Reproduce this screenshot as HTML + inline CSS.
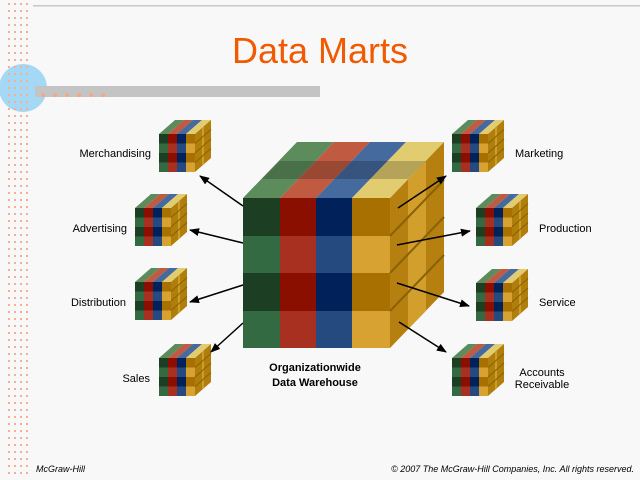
<!DOCTYPE html>
<html><head><meta charset="utf-8"><style>
html,body{margin:0;padding:0;background:#f8f8f8}
svg{display:block}
text{font-family:"Liberation Sans",sans-serif}
</style></head><body>
<svg width="640" height="480" viewBox="0 0 640 480" xmlns="http://www.w3.org/2000/svg">
<defs>
<pattern id="dots" x="6" y="0" width="6" height="7" patternUnits="userSpaceOnUse">
<rect x="2" y="3" width="2" height="2" fill="#f4b090"/>
</pattern>
<marker id="ah" markerWidth="10" markerHeight="8" refX="9" refY="4" orient="auto" markerUnits="userSpaceOnUse">
<path d="M0,0 L10,4 L0,8 z" fill="#000"/>
</marker>
<g id="sc">
<rect x="0" y="0" width="9" height="38" fill="#336a42"/>
<rect x="9" y="0" width="9" height="38" fill="#a83020"/>
<rect x="18" y="0" width="9" height="38" fill="#244a80"/>
<rect x="27" y="0" width="9" height="38" fill="#d8a232"/>
<rect x="0" y="0" width="9" height="9.5" fill="#1c3f24"/><rect x="9" y="0" width="9" height="9.5" fill="#8b0f00"/><rect x="18" y="0" width="9" height="9.5" fill="#00215a"/><rect x="27" y="0" width="9" height="9.5" fill="#a87000"/>
<rect x="0" y="19" width="9" height="9.5" fill="#1c3f24"/><rect x="9" y="19" width="9" height="9.5" fill="#8b0f00"/><rect x="18" y="19" width="9" height="9.5" fill="#00215a"/><rect x="27" y="19" width="9" height="9.5" fill="#a87000"/>
<polygon points="0,0 9,0 25,-14 16,-14" fill="#5d8c5c"/>
<polygon points="9,0 18,0 34,-14 25,-14" fill="#c05a40"/>
<polygon points="18,0 27,0 43,-14 34,-14" fill="#456a9e"/>
<polygon points="27,0 36,0 52,-14 43,-14" fill="#e2cc70"/>
<polygon points="36,0 52,-14 52,24 36,38" fill="#b07e0a"/>
<line x1="44" y1="-7" x2="44" y2="31" stroke="#d9a634" stroke-width="1.5"/>
<path d="M36,9.5 L52,-4.5 M36,19 L52,5 M36,28.5 L52,14.5" stroke="#8a6205" stroke-width="1"/>
</g>
</defs>
<rect width="640" height="480" fill="#f8f8f8"/>
<rect x="33" y="5" width="607" height="1.5" fill="#c8c8c8"/>
<circle cx="23" cy="88" r="24" fill="#a4d8f4"/>
<rect x="35" y="86" width="285" height="11" fill="#c4c4c4"/>
<rect x="6" y="2" width="24" height="476" fill="url(#dots)"/>
<g fill="#f4a884"><circle cx="43" cy="95" r="2"/><circle cx="55" cy="95" r="2"/><circle cx="67" cy="95" r="2"/><circle cx="79" cy="95" r="2"/><circle cx="91" cy="95" r="2"/><circle cx="103" cy="95" r="2"/></g>
<text x="320" y="63" text-anchor="middle" font-size="36" fill="#f05a00">Data Marts</text>
<g>
<rect x="243" y="198" width="37" height="150" fill="#336a42"/>
<rect x="280" y="198" width="36" height="150" fill="#a83020"/>
<rect x="316" y="198" width="36" height="150" fill="#244a80"/>
<rect x="352" y="198" width="38" height="150" fill="#d8a232"/>
<rect x="243" y="198" width="37" height="38" fill="#1c3f24"/><rect x="280" y="198" width="36" height="38" fill="#8b0f00"/><rect x="316" y="198" width="36" height="38" fill="#00215a"/><rect x="352" y="198" width="38" height="38" fill="#a87000"/>
<rect x="243" y="273" width="37" height="38" fill="#1c3f24"/><rect x="280" y="273" width="36" height="38" fill="#8b0f00"/><rect x="316" y="273" width="36" height="38" fill="#00215a"/><rect x="352" y="273" width="38" height="38" fill="#a87000"/>
<polygon points="243,198 280,198 334,142 297,142" fill="#5d8c5c"/>
<polygon points="280,198 316,198 370,142 334,142" fill="#c05a40"/>
<polygon points="316,198 352,198 406,142 370,142" fill="#456a9e"/>
<polygon points="352,198 390,198 444,142 406,142" fill="#e2cc70"/>
<polygon points="262,179 408,179 426,161 280,161" fill="#000" opacity="0.2"/>
<polygon points="390,198 444,142 444,292 390,348" fill="#b58010"/>
<polygon points="408,179 426,161 426,311 408,329" fill="#d9a634" opacity="0.8"/>
<path d="M390,236 L444,180 M390,273 L444,217 M390,311 L444,255" stroke="#8a6205" stroke-width="2"/>
</g>
<text x="315" y="371" text-anchor="middle" font-size="11" font-weight="bold">Organizationwide</text>
<text x="315" y="386" text-anchor="middle" font-size="11" font-weight="bold">Data Warehouse</text>
<use href="#sc" x="159" y="134"/>
<use href="#sc" x="135" y="208"/>
<use href="#sc" x="135" y="282"/>
<use href="#sc" x="159" y="358"/>
<use href="#sc" x="452" y="134"/>
<use href="#sc" x="476" y="208"/>
<use href="#sc" x="476" y="283"/>
<use href="#sc" x="452" y="358"/>
<g stroke="#000" stroke-width="1.5" marker-end="url(#ah)">
<line x1="243" y1="206" x2="200" y2="176"/>
<line x1="243" y1="243" x2="190" y2="230"/>
<line x1="243" y1="285" x2="190" y2="302"/>
<line x1="243" y1="323" x2="211" y2="352"/>
<line x1="398" y1="208" x2="446" y2="176"/>
<line x1="397" y1="245" x2="470" y2="231"/>
<line x1="397" y1="283" x2="469" y2="306"/>
<line x1="399" y1="322" x2="446" y2="352"/>
</g>
<g font-size="11" fill="#000">
<text x="151" y="157" text-anchor="end">Merchandising</text>
<text x="127" y="232" text-anchor="end">Advertising</text>
<text x="126" y="306" text-anchor="end">Distribution</text>
<text x="150" y="382" text-anchor="end">Sales</text>
<text x="515" y="157">Marketing</text>
<text x="539" y="232">Production</text>
<text x="539" y="306">Service</text>
<text x="542" y="376" text-anchor="middle">Accounts</text>
<text x="542" y="388" text-anchor="middle">Receivable</text>
</g>
<g font-family="Liberation Serif,serif" font-style="italic" font-size="9" fill="#000">
<text x="36" y="472">McGraw-Hill</text>
<text x="634" y="472" text-anchor="end">© 2007 The McGraw-Hill Companies, Inc. All rights reserved.</text>
</g>
</svg>
</body></html>
